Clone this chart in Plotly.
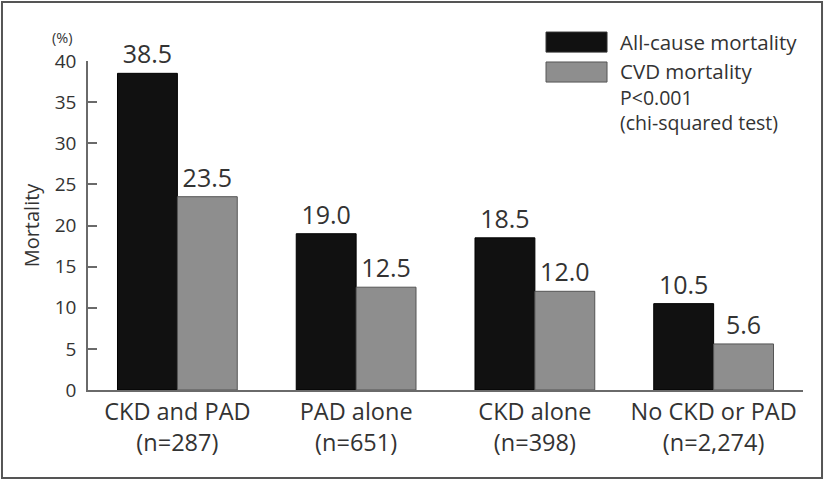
import plotly.graph_objects as go

categories = ["CKD and PAD<br>(n=287)", "PAD alone<br>(n=651)", "CKD alone<br>(n=398)", "No CKD or PAD<br>(n=2,274)"]
all_cause = [38.5, 19.0, 18.5, 10.5]
cvd = [23.5, 12.5, 12.0, 5.6]
series_names = ["All-cause mortality", "CVD mortality"]
y_ticks = [0, 5, 10, 15, 20, 25, 30, 35, 40]

FONT = "Open Sans"
TXT = "#333333"
AX = "#6a6a6a"
BLACK = "#111111"
GRAY = "#8e8e8e"

fig = go.Figure()
fig.add_trace(go.Bar(
    x=categories, y=all_cause, name=series_names[0],
    marker=dict(color=BLACK, line=dict(color="#000000", width=1)),
    text=[f"{v:.1f}" for v in all_cause], textposition="outside",
    textfont=dict(size=25, color=TXT, family=FONT), cliponaxis=False,
    showlegend=False,
))
fig.add_trace(go.Bar(
    x=categories, y=cvd, name=series_names[1],
    marker=dict(color=GRAY, line=dict(color="#555555", width=1)),
    text=[f"{v:.1f}" for v in cvd], textposition="outside",
    textfont=dict(size=25, color=TXT, family=FONT), cliponaxis=False,
    showlegend=False,
))

# legend swatches + labels
shapes = [
    dict(type="rect", xref="paper", yref="paper", x0=0.6406, x1=0.7259, y0=1.027, y1=1.088,
         fillcolor=BLACK, line=dict(color="#333333", width=1)),
    dict(type="rect", xref="paper", yref="paper", x0=0.6406, x1=0.7259, y0=0.936, y1=0.997,
         fillcolor=GRAY, line=dict(color="#555555", width=1)),
    dict(type="rect", xref="paper", yref="paper", x0=-0.1203, x1=1.0266, y0=-0.2675, y1=1.179,
         fillcolor="rgba(0,0,0,0)", line=dict(color="#555555", width=2), layer="below"),
]
annotations = [
    dict(text=series_names[0], xref="paper", yref="paper", x=0.7427, y=1.058, xanchor="left", yanchor="middle",
         showarrow=False, borderpad=0, font=dict(size=20.5, color=TXT, family=FONT)),
    dict(text=series_names[1], xref="paper", yref="paper", x=0.7427, y=0.970, xanchor="left", yanchor="middle",
         showarrow=False, borderpad=0, font=dict(size=20.5, color=TXT, family=FONT)),
    dict(text="P<0.001<br>(chi-squared test)", xref="paper", yref="paper", x=0.7427, y=0.852,
         xanchor="left", yanchor="middle", align="left",
         showarrow=False, borderpad=0, font=dict(size=19.5, color=TXT, family=FONT)),
    dict(text="(%)", xref="paper", yref="paper", x=-0.035, y=1.070, xanchor="center", yanchor="middle",
         showarrow=False, borderpad=0, font=dict(size=14.5, color=TXT, family=FONT)),
]

fig.update_layout(
    width=826, height=480,
    margin=dict(l=88, r=23, t=61, b=90),
    paper_bgcolor="white", plot_bgcolor="white",
    barmode="group", bargap=0.33, bargroupgap=0,
    font=dict(family=FONT, color=TXT),
    shapes=shapes, annotations=annotations,
    xaxis=dict(range=[-0.5, 3.5], showline=True, linecolor=AX, linewidth=1.5, ticks="",
               tickfont=dict(size=23.5, color=TXT, family=FONT), showgrid=False, zeroline=False),
    yaxis=dict(range=[0, 40], tickvals=y_ticks, showline=True, linecolor=AX, linewidth=1.5,
               ticks="inside", ticklen=9, tickcolor=AX, tickwidth=1.5, ticklabelstandoff=6,
               tickfont=dict(size=19, color=TXT, family=FONT), showgrid=False, zeroline=False,
               title=dict(text="Mortality", font=dict(size=20, color=TXT, family=FONT), standoff=10)),
)
fig.write_html("out.html", config={"displayModeBar": False},
               post_script="document.body.style.margin='0';document.body.style.overflow='hidden';")
